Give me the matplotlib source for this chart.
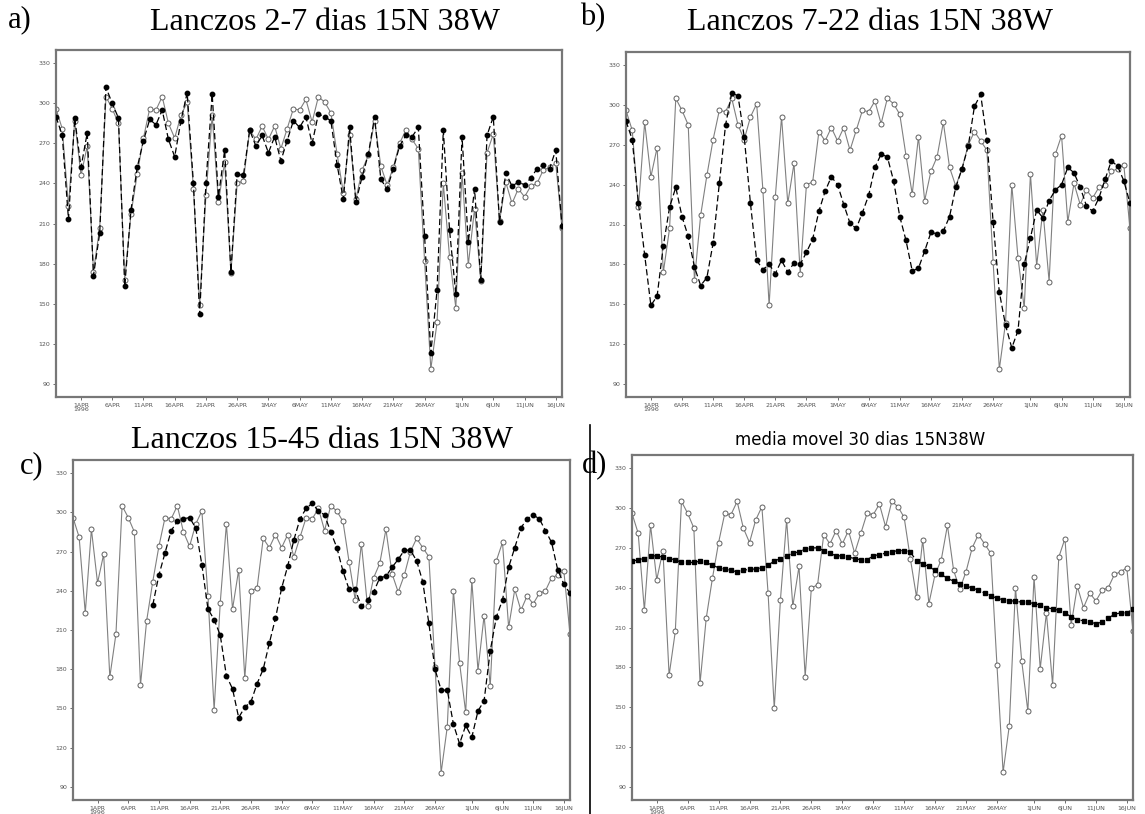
import matplotlib
matplotlib.use("Agg")
import matplotlib.pyplot as plt
from matplotlib.lines import Line2D
import numpy as np
import pandas as pd

# daily OLR at 15N 38W, 28MAR-17JUN 1996
start_date = "1996-03-28"

raw = [296, 281, 223, 287, 246, 268, 174, 207, 305, 296,
       285, 168, 217, 247, 274, 296, 295, 305, 285, 274,
       291, 301, 236, 149, 231, 291, 226, 256, 173, 240,
       242, 280, 273, 283, 273, 283, 266, 281, 296, 295,
       303, 286, 305, 301, 293, 262, 233, 276, 228, 250,
       261, 287, 253, 239, 252, 270, 280, 273, 266, 182,
       101, 136, 240, 185, 147, 248, 179, 221, 167, 263,
       277, 212, 241, 225, 236, 230, 238, 240, 250, 252,
       255, 207]

lanczos_2_7 = [290, 276, 213, 289, 252, 278, 171, 203, 312, 300,
               289, 163, 220, 252, 272, 288, 284, 295, 273, 260,
               287, 308, 240, 142, 240, 307, 230, 265, 174, 247,
               246, 280, 268, 276, 263, 275, 257, 272, 287, 282,
               290, 270, 292, 290, 287, 254, 228, 282, 226, 245,
               262, 290, 243, 236, 251, 268, 276, 275, 282, 201,
               113, 160, 280, 205, 157, 275, 196, 236, 168, 276,
               290, 211, 248, 238, 241, 239, 244, 251, 254, 251,
               265, 208]

lanczos_7_22 = [288, 274, 226, 187, 149, 156, 194, 223, 238, 216,
                201, 178, 164, 170, 196, 241, 285, 309, 307, 276,
                226, 183, 176, 180, 173, 183, 174, 181, 180, 189,
                199, 220, 235, 246, 240, 225, 211, 207, 219, 232,
                253, 263, 261, 243, 216, 198, 175, 177, 190, 204,
                203, 205, 216, 238, 252, 269, 299, 308, 274, 212,
                159, 134, 117, 130, 180, 200, 221, 215, 228, 236,
                240, 253, 249, 238, 224, 220, 230, 244, 258, 254,
                243, 226]

# 15-45 day filter only defined from 6APR on
lanczos_15_45_first = 13
lanczos_15_45 = [229, 252, 269, 286, 293, 295, 296, 288, 260, 226,
                 218, 206, 175, 165, 143, 151, 155, 169, 180, 200,
                 219, 242, 259, 279, 295, 303, 307, 301, 298, 285,
                 273, 255, 241, 241, 228, 233, 239, 250, 251, 258,
                 264, 271, 271, 263, 247, 215, 180, 164, 164, 138,
                 123, 137, 128, 148, 156, 194, 220, 233, 258, 273,
                 288, 295, 298, 295, 286, 277, 256, 245, 238]

media_movel_30 = [260, 261, 262, 264, 264, 263, 262, 261, 259, 259,
                  259, 260, 259, 257, 255, 254, 253, 252, 253, 254,
                  254, 255, 257, 260, 262, 264, 266, 267, 269, 270,
                  270, 268, 266, 264, 264, 263, 262, 261, 261, 264,
                  265, 266, 267, 268, 268, 267, 260, 258, 256, 253,
                  250, 247, 245, 243, 241, 240, 238, 236, 234, 232,
                  231, 230, 230, 229, 229, 228, 227, 225, 224, 223,
                  221, 218, 216, 215, 214, 213, 214, 217, 220, 221,
                  221, 224]

y_ticks = [90, 120, 150, 180, 210, 240, 270, 300, 330]

W, H = 1145, 814
fig = plt.figure(figsize=(W / 100, H / 100), dpi=100)


def box(x0, y0, x1, y1):
    return [x0 / W, 1 - y1 / H, (x1 - x0) / W, (y1 - y0) / H]


dates = pd.date_range(start_date, periods=len(raw))
tick_idx = [i for i, d in enumerate(dates) if d.day in (1, 6, 11, 16, 21, 26)]
tick_lab = []
for i in tick_idx:
    d = dates[i]
    lab = f"{d.day}{d.strftime('%b').upper()}"
    if i == tick_idx[0]:
        lab += f"\n{d.year}"
    tick_lab.append(lab)


def draw(ax, filt, first=0, marker="o"):
    x = np.arange(len(raw))
    ax.plot(x, raw, color="#808080", lw=0.8, marker="o", ms=3.6,
            mfc="white", mec="#606060", mew=0.7, zorder=2)
    xf = np.arange(first, first + len(filt))
    ax.plot(xf, filt, color="black", lw=0.9, ls=(0, (5, 2.5)),
            marker=marker, ms=3.2, mfc="black", mec="black", zorder=3)
    ax.set_xlim(0, len(raw) - 1)
    ax.set_ylim(80, 340)
    ax.set_yticks(y_ticks)
    ax.set_yticklabels([str(v) for v in y_ticks])
    ax.set_xticks(tick_idx)
    ax.set_xticklabels(tick_lab, linespacing=0.8)
    ax.tick_params(labelsize=4.5, colors="#555555", length=2, width=0.6, pad=2)
    for s in ax.spines.values():
        s.set_color("#777777")
        s.set_linewidth(1.6)


ax_a = fig.add_axes(box(56, 50, 562, 397))
draw(ax_a, lanczos_2_7)
ax_b = fig.add_axes(box(626, 52, 1130, 397))
draw(ax_b, lanczos_7_22)
ax_c = fig.add_axes(box(73, 460, 570, 800))
draw(ax_c, lanczos_15_45, first=lanczos_15_45_first)
ax_d = fig.add_axes(box(632, 455, 1133, 800))
draw(ax_d, media_movel_30, marker="s")

serif = "Liberation Serif"
fig.text(325 / W, 1 - 22 / H, "Lanczos 2-7 dias 15N 38W", family=serif,
         fontsize=23, ha="center", va="center")
fig.text(870 / W, 1 - 22 / H, "Lanczos 7-22 dias 15N 38W", family=serif,
         fontsize=23, ha="center", va="center")
fig.text(322 / W, 1 - 440 / H, "Lanczos 15-45 dias 15N 38W", family=serif,
         fontsize=23, ha="center", va="center",
         bbox=dict(facecolor="white", edgecolor="none", pad=0))
fig.text(860 / W, 1 - 440 / H, "media movel 30 dias 15N38W",
         family="DejaVu Sans", fontsize=12, ha="center", va="center")

for lab, x, y in [("a)", 8, 20), ("b)", 580, 18), ("c)", 20, 466), ("d)", 582, 466)]:
    fig.text(x / W, 1 - y / H, lab, family=serif, fontsize=22,
             ha="left", va="center")

fig.add_artist(Line2D([590 / W, 590 / W], [0, 1 - 425 / H], color="black",
                      lw=1.2, transform=fig.transFigure))

fig.savefig("out.png", dpi=100)
plt.close(fig)
